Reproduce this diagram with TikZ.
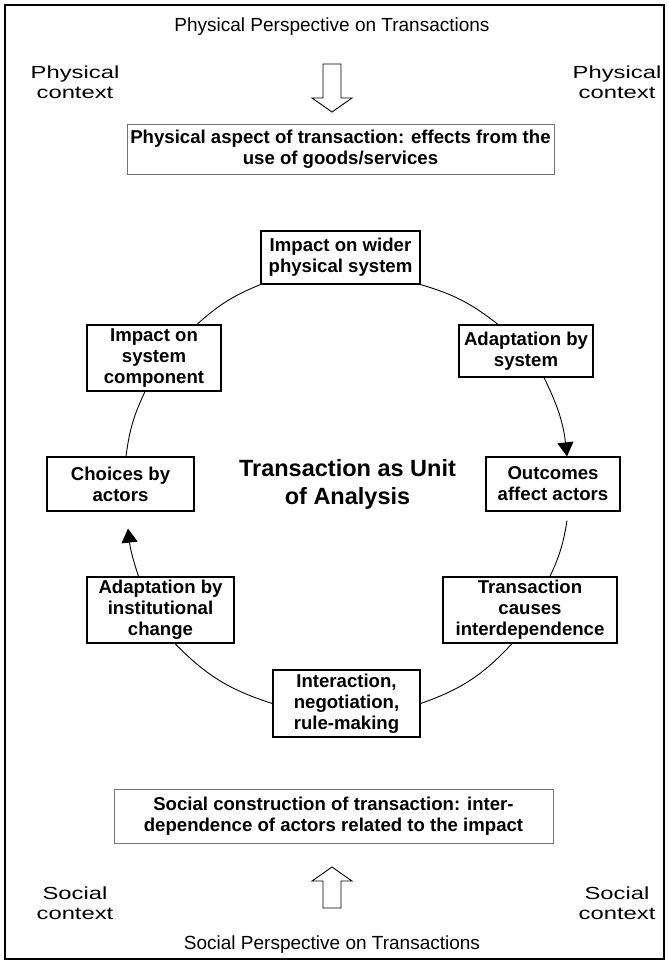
\documentclass[tikz,border=0pt]{standalone}
\usepackage{fontspec}
\setmainfont{Liberation Sans}
\newfontfamily\widefont[FakeStretch=1.36]{Liberation Sans}
\usetikzlibrary{arrows.meta}

\tikzset{
  cyclebox/.style={draw, line width=1.2pt, fill=white, inner sep=0pt, align=center,
    font=\fontsize{18.6}{21}\selectfont\bfseries},
  aspectbox/.style={draw=black!55, line width=0.9pt, inner sep=0pt, align=center,
    font=\fontsize{18.6}{21}\selectfont\bfseries},
  ctxtext/.style={align=center, font=\widefont\fontsize{17.5}{19.5}\selectfont},
  perstext/.style={font=\fontsize{19}{22}\selectfont},
  cyclearc/.style={line width=0.9pt},
  cyclearrow/.style={line width=0.9pt, -{Triangle[length=14pt,width=16pt]}},
  hollow/.style={line width=0.9pt, fill=white}
}

\begin{document}
\begin{tikzpicture}[x=1pt, y=-1pt]
  \useasboundingbox (0,0) rectangle (669,964);
  \draw[line width=2.6pt] (5,5) rectangle (664,959);

  \node[perstext] (physpers) at (332,27) {Physical Perspective on Transactions};
  \node[ctxtext] (physl) at (75,82) {Physical\\context};
  \node[ctxtext] (physr) at (617,82) {Physical\\context};
  \coordinate (downtop) at (332,64);
  \draw[hollow] (downtop) ++(-9,0) -- ++(0,34) -- ++(-11,0) -- ++(20,14) -- ++(20,-14)
    -- ++(-11,0) -- ++(0,-34) -- cycle;
  \node[aspectbox, minimum width=427, minimum height=50] (physasp) at (340.5,149)
    {Physical aspect of transaction: effects from the\\use of goods/services};

  \node[cyclebox, minimum width=159, minimum height=53] (wider) at (340.5,257.5)
    {Impact on wider\\physical system};
  \node[cyclebox, minimum width=134, minimum height=66] (comp) at (154,358)
    {Impact on\\system\\component};
  \node[cyclebox, minimum width=134, minimum height=52] (adaptsys) at (526,351)
    {Adaptation by\\system};
  \node[cyclebox, minimum width=147, minimum height=54] (choices) at (120.5,484)
    {Choices by\\actors};
  \node[cyclebox, minimum width=134, minimum height=54] (outcomes) at (553,484)
    {Outcomes\\affect actors};
  \node[cyclebox, minimum width=147, minimum height=66] (instit) at (160.5,610)
    {Adaptation by\\institutional\\change};
  \node[cyclebox, minimum width=174, minimum height=66] (causes) at (530,610)
    {Transaction\\causes\\interdependence};
  \node[cyclebox, minimum width=147, minimum height=67] (interact) at (346.5,703.5)
    {Interaction,\\negotiation,\\rule-making};
  \node[align=center, font=\fontsize{23.5}{28}\selectfont\bfseries] (unit) at (347.5,484)
    {Transaction as Unit\\of Analysis};

  \draw[cyclearc] ([xshift=43pt]comp.north) to[bend left=10] (wider.south west);
  \draw[cyclearc] (wider.south east) to[bend left=11] ([xshift=-28pt]adaptsys.north);
  \draw[cyclearrow] ([xshift=18pt]adaptsys.south) to[bend left=10] ([xshift=14pt]outcomes.north);
  \draw[cyclearc] ([xshift=14pt,yshift=-9pt]outcomes.south) to[bend left=8] ([xshift=20pt]causes.north);
  \draw[cyclearc] ([xshift=-18pt]causes.south) to[bend left=14] (interact.east);
  \draw[cyclearc] (interact.west) to[bend left=14] ([xshift=14.5pt]instit.south);
  \draw[cyclearrow] ([xshift=-22pt]instit.north) to[bend left=6] ([xshift=7.5pt,yshift=-17pt]choices.south);
  \draw[cyclearc] ([xshift=5.5pt]choices.north) to[bend left=9] ([xshift=-9pt]comp.south);

  \node[aspectbox, minimum width=439, minimum height=54] (socasp) at (333.5,816)
    {Social construction of transaction: inter-\\dependence of actors related to the impact};
  \coordinate (uptip) at (332,867);
  \draw[hollow] (uptip) -- ++(20,14) -- ++(-11,0) -- ++(0,27) -- ++(-18,0) -- ++(0,-27)
    -- ++(-11,0) -- cycle;
  \node[ctxtext] (socl) at (75,903) {Social\\context};
  \node[ctxtext] (socr) at (617,903) {Social\\context};
  \node[perstext] (socpers) at (332,945) {Social Perspective on Transactions};
\end{tikzpicture}
\end{document}
